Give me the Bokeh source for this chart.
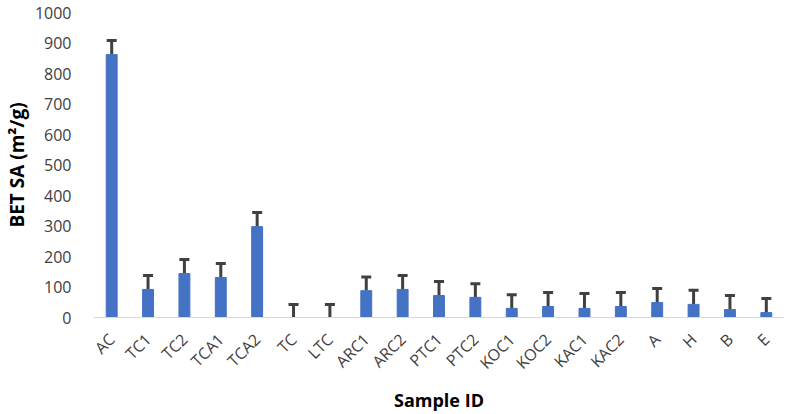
import math
from bokeh.plotting import figure
from bokeh.models import ColumnDataSource, Range1d, Whisker, TeeHead, FactorRange
from bokeh.embed import file_html
from bokeh.resources import INLINE

samples = ["AC", "TC1", "TC2", "TCA1", "TCA2", "TC", "LTC", "ARC1", "ARC2", "PTC1",
           "PTC2", "KOC1", "KOC2", "KAC1", "KAC2", "A", "H", "B", "E"]
bet_sa = [862, 92, 144, 131, 298, 0, 0, 88, 92, 72, 66, 30, 36, 30, 36, 49, 43, 26, 16]
err = [46, 46, 46, 46, 46, 43, 43, 45, 46, 46, 45, 45, 46, 49, 46, 46, 46, 46, 46]

upper = [v + e for v, e in zip(bet_sa, err)]
src = ColumnDataSource(dict(x=samples, top=bet_sa, upper=upper))

p = figure(x_range=FactorRange(*samples, range_padding=0), y_range=Range1d(0, 1000),
           frame_width=691, frame_height=305, output_backend="svg", toolbar_location=None,
           min_border_left=82, min_border_right=0, min_border_top=12, min_border_bottom=0)
p.outline_line_color = None
p.background_fill_color = "white"
p.border_fill_color = "white"

p.vbar(x="x", top="top", width=0.3, source=src, color="#4472C4")
wh = Whisker(base="x", lower="top", upper="upper", source=src,
             line_color="#404040", line_width=3,
             upper_head=TeeHead(size=10, line_color="#404040", line_width=3),
             lower_head=None)
p.add_layout(wh)

p.xgrid.grid_line_color = None
p.ygrid.grid_line_color = None

font = "Open Sans"
p.yaxis.ticker = list(range(0, 1001, 100))
p.yaxis.axis_line_color = None
p.yaxis.major_tick_line_color = None
p.yaxis.minor_tick_line_color = None
p.yaxis.major_label_standoff = 16
p.yaxis.major_label_text_font = font
p.yaxis.major_label_text_font_size = "16px"
p.yaxis.major_label_text_color = "#404040"
p.yaxis.axis_label = "BET SA (m²/g)"
p.yaxis.axis_label_text_font = font
p.yaxis.axis_label_text_font_style = "bold"
p.yaxis.axis_label_text_font_size = "19px"
p.yaxis.axis_label_text_color = "#000000"
p.yaxis.axis_label_standoff = 2

p.xaxis.axis_line_color = "#D9D9D9"
p.xaxis.axis_line_width = 1
p.xaxis.major_tick_line_color = None
p.xaxis.minor_tick_line_color = None
p.xaxis.major_tick_out = 0
p.xaxis.major_label_orientation = math.pi / 4
p.xaxis.major_label_standoff = 19
p.xaxis.major_label_text_font = font
p.xaxis.major_label_text_font_size = "16px"
p.xaxis.major_label_text_color = "#404040"
p.xaxis.axis_label = "Sample ID"
p.xaxis.axis_label_text_font = font
p.xaxis.axis_label_text_font_style = "bold"
p.xaxis.axis_label_text_font_size = "18px"
p.xaxis.axis_label_text_color = "#000000"
p.xaxis.axis_label_standoff = 4

open("out.html", "w").write(file_html(p, INLINE))
